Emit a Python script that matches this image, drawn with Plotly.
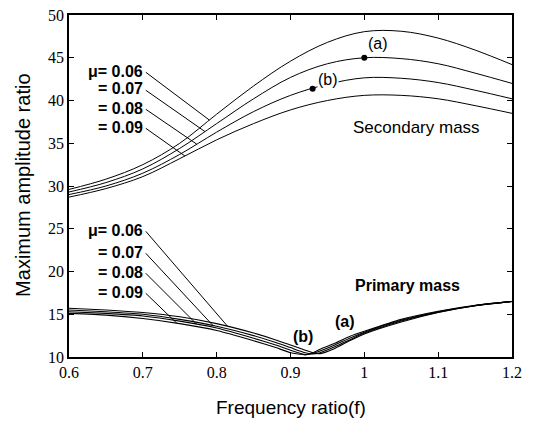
import numpy as np
import plotly.graph_objects as go

# ---- data ----
mu_labels = ["μ= 0.06", "= 0.07", "= 0.08", "= 0.09"]

sec_f = [0.6, 0.65, 0.7, 0.75, 0.8, 0.85, 0.9, 0.95, 1.0, 1.05, 1.1, 1.15, 1.2]
sec_006 = [29.6, 30.8, 32.5, 35.0, 38.4, 41.7, 44.6, 46.8, 48.05, 48.1, 47.3, 45.9, 44.2]
sec_007 = [29.3, 30.4, 32.0, 34.4, 37.3, 40.2, 42.7, 44.3, 45.0, 44.9, 44.3, 43.2, 42.0]
sec_008 = [29.0, 30.0, 31.5, 33.7, 36.3, 38.7, 40.6, 41.9, 42.65, 42.6, 42.1, 41.2, 40.2]
sec_009 = [28.7, 29.7, 31.1, 33.2, 35.4, 37.3, 38.9, 40.0, 40.6, 40.6, 40.2, 39.4, 38.5]

pri_f = [0.6, 0.65, 0.7, 0.75, 0.8, 0.85, 0.88, 0.9, 0.92, 0.93, 0.94, 0.96, 0.98, 1.0, 1.05, 1.1, 1.15, 1.2]
pri_006 = [15.7, 15.5, 15.2, 14.7, 13.9, 12.8, 12.0, 11.4, 10.8, 10.5, 10.4, 11.0, 11.9, 12.7, 14.1, 15.2, 16.0, 16.5]
pri_007 = [15.5, 15.3, 15.0, 14.4, 13.6, 12.5, 11.7, 11.1, 10.5, 10.35, 10.5, 11.2, 12.0, 12.8, 14.2, 15.25, 16.0, 16.5]
pri_008 = [15.3, 15.1, 14.8, 14.2, 13.4, 12.2, 11.4, 10.8, 10.3, 10.4, 10.7, 11.4, 12.2, 12.9, 14.3, 15.3, 16.0, 16.5]
pri_009 = [15.1, 14.9, 14.5, 13.9, 13.1, 11.9, 11.1, 10.5, 10.25, 10.5, 10.9, 11.6, 12.4, 13.0, 14.4, 15.35, 16.05, 16.5]

# optimum points on secondary curves: (a) on mu=0.07, (b) on mu=0.08
opt_labels = ["(a)", "(b)"]
opt_f = [1.0, 0.93]

# where leader lines meet the curves
sec_leader_f = [0.79, 0.784, 0.773, 0.757]
pri_leader_f = [0.815, 0.795, 0.773, 0.746]

x_ticks = [0.6, 0.7, 0.8, 0.9, 1.0, 1.1, 1.2]
x_ticktext = ["0.6", "0.7", "0.8", "0.9", "1", "1.1", "1.2"]
y_ticks = [10, 15, 20, 25, 30, 35, 40, 45, 50]

sec_series = [sec_006, sec_007, sec_008, sec_009]
pri_series = [pri_006, pri_007, pri_008, pri_009]

fig = go.Figure()
for s in sec_series:
    fig.add_trace(go.Scatter(x=sec_f, y=s, mode="lines",
                             line=dict(color="black", width=1, shape="spline", smoothing=1.0),
                             hoverinfo="skip", showlegend=False))
for s in pri_series:
    fig.add_trace(go.Scatter(x=pri_f, y=s, mode="lines",
                             line=dict(color="black", width=1.1, shape="spline", smoothing=0.5),
                             hoverinfo="skip", showlegend=False))

# optimum dots
dot_v = [float(np.interp(opt_f[0], sec_f, sec_007)), float(np.interp(opt_f[1], sec_f, sec_008))]
fig.add_trace(go.Scatter(x=opt_f, y=dot_v, mode="markers",
                         marker=dict(color="black", size=6), hoverinfo="skip", showlegend=False))

ann = []
SANS = "Liberation Sans"
SERIF = "Times New Roman, Liberation Serif, DejaVu Serif, serif"

# secondary mu labels and leaders
sec_label_y = [43.45, 41.35, 39.12, 36.9]
for lab, ly, lf, s in zip(mu_labels, sec_label_y, sec_leader_f, sec_series):
    ann.append(dict(x=0.701, y=ly, xref="x", yref="y", text=lab, showarrow=False,
                    xanchor="right", yanchor="middle", borderpad=0,
                    font=dict(family=SANS, size=16, weight="bold", color="black")))
    ev = float(np.interp(lf, sec_f, s))
    fig.add_shape(type="line", x0=0.704, y0=ly - 0.15, x1=lf, y1=ev,
                  line=dict(color="black", width=1))

pri_label_y = [24.85, 22.28, 19.94, 17.6]
for lab, ly, lf, s in zip(mu_labels, pri_label_y, pri_leader_f, pri_series):
    ann.append(dict(x=0.701, y=ly, xref="x", yref="y", text=lab, showarrow=False,
                    xanchor="right", yanchor="middle", borderpad=0,
                    font=dict(family=SANS, size=16, weight="bold", color="black")))
    ev = float(np.interp(lf, pri_f, s))
    fig.add_shape(type="line", x0=0.704, y0=ly - 0.15, x1=lf, y1=ev,
                  line=dict(color="black", width=1))

# (a), (b) labels
ann.append(dict(x=1.0185, y=46.7, xref="x", yref="y", text="(a)", showarrow=False,
                font=dict(family=SANS, size=16, color="black")))
ann.append(dict(x=0.951, y=42.4, xref="x", yref="y", text="(b)", showarrow=False,
                bgcolor="white", borderpad=0, font=dict(family=SANS, size=16, color="black")))
ann.append(dict(x=0.974, y=14.1, xref="x", yref="y", text="(a)", showarrow=False,
                font=dict(family=SANS, size=16, weight="bold", color="black")))
ann.append(dict(x=0.917, y=12.35, xref="x", yref="y", text="(b)", showarrow=False,
                font=dict(family=SANS, size=16, weight="bold", color="black")))

ann.append(dict(x=1.07, y=36.8, xref="x", yref="y", text="Secondary mass", showarrow=False,
                font=dict(family=SANS, size=17, color="black")))
ann.append(dict(x=1.059, y=18.4, xref="x", yref="y", text="Primary mass", showarrow=False,
                font=dict(family=SANS, size=16, weight="bold", color="black")))

# axis titles
ann.append(dict(x=-0.104, y=0.503, xref="paper", yref="paper", text="Maximum amplitude ratio",
                xanchor="center", yanchor="middle",
                showarrow=False, textangle=-90, font=dict(family=SANS, size=20, color="black")))
ann.append(dict(x=0.501, y=-0.149, xref="paper", yref="paper", text="Frequency ratio(f)",
                xanchor="center", yanchor="middle",
                showarrow=False, font=dict(family=SANS, size=19, color="black")))

axis_common = dict(showline=True, linecolor="black", linewidth=1.5, mirror="ticks",
                   ticks="inside", ticklen=5, tickwidth=1, tickcolor="black",
                   showgrid=False, zeroline=False,
                   tickfont=dict(family=SERIF, size=16, color="black"))

fig.update_layout(
    width=533, height=423,
    margin=dict(l=69, r=21, t=15, b=66, autoexpand=False),
    paper_bgcolor="white", plot_bgcolor="white",
    font=dict(family=SANS, color="black"),
    xaxis=dict(range=[0.6, 1.2], tickvals=x_ticks, ticktext=x_ticktext, automargin=False, **axis_common),
    yaxis=dict(range=[10, 50], tickvals=y_ticks, automargin=False, **axis_common),
    annotations=ann,
    showlegend=False,
)

fig.write_html("out.html", config={"displayModeBar": False},
               post_script="document.body.style.margin='0';document.body.style.overflow='hidden';")
